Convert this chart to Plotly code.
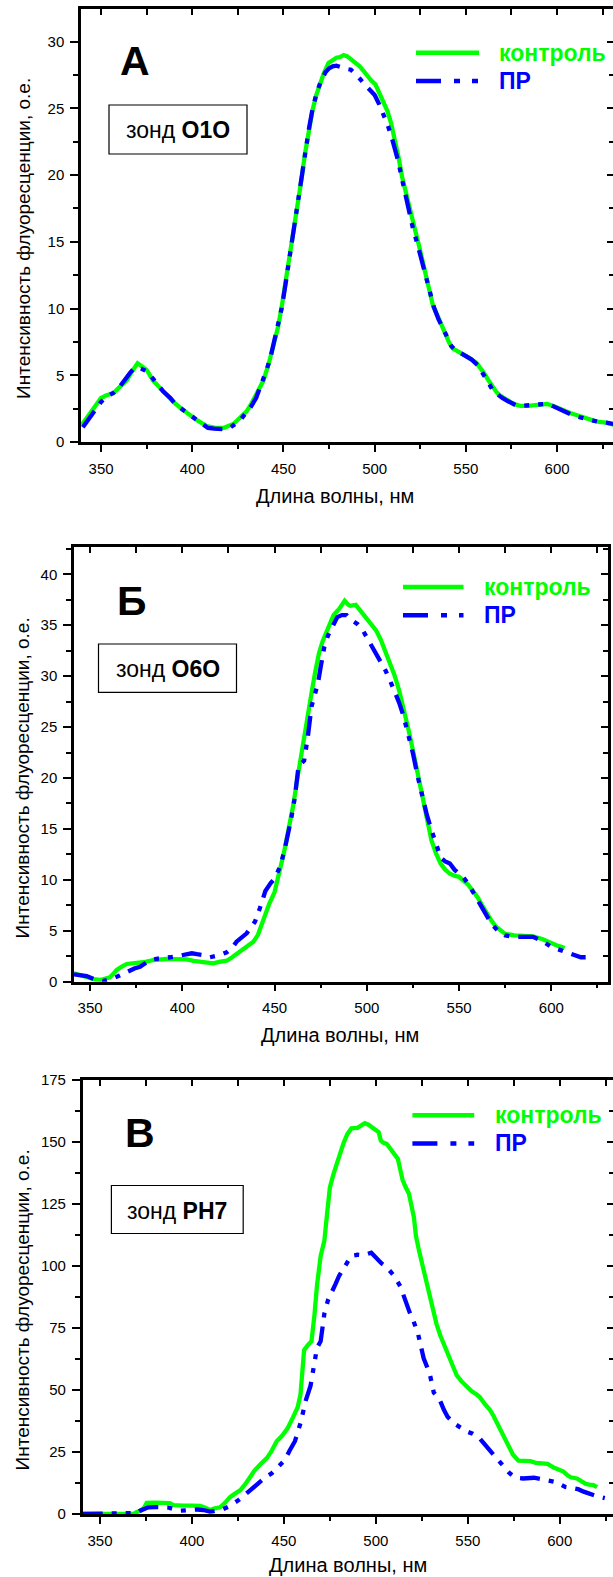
import plotly.graph_objects as go

# ---------------- data ----------------
# Panel А (зонд O1O)
a_ctrl_x = [339.4, 342, 345, 347.6, 350, 353, 356.7, 360, 364, 367, 370, 373, 375, 378.6, 382, 386, 389.6, 394, 398.8, 403,
            407.9, 413.4, 417, 422.5, 426, 429.8, 432.5, 435.3, 439, 442, 444.7, 447, 449, 451, 453, 455, 457.5, 460, 461.8,
            464, 466, 468, 470, 472, 474.7, 477, 479, 481, 483, 485, 487.5, 490, 491.8, 494, 496, 498, 500.4, 502.5, 504.7,
            507, 509, 511, 513, 515, 517.5, 519.5, 521.8, 524, 526, 528, 530, 532, 534.7, 537, 539, 541, 543, 545, 547.5,
            550, 552, 554, 556, 558, 560, 562.5, 564.6, 567, 569, 571, 573, 575, 577.5, 580, 584, 587, 590, 594.6, 598, 601,
            604, 607.5, 611, 614, 617, 620, 623, 626.8, 631]
a_ctrl_y = [1.27, 1.8, 2.4, 2.9, 3.3, 3.5, 3.65, 4.1, 4.6, 5.3, 5.9, 5.6, 5.4, 4.6, 4.1, 3.6, 3.0, 2.5, 2.0, 1.6,
            1.2, 1.05, 1.05, 1.35, 1.8, 2.3, 2.9, 3.6, 4.6, 5.9, 7.4, 8.6, 10.1, 11.8, 13.4, 15.3, 17.6, 19.8, 21.6,
            23.4, 24.9, 26.0, 26.9, 27.6, 28.4, 28.6, 28.8, 28.85, 29.0, 28.9, 28.6, 28.4, 28.15, 27.8, 27.4, 27.1, 26.8, 26.2, 25.6,
            24.8, 23.9, 22.8, 21.4, 19.9, 18.4, 17.2, 16.1, 14.9, 13.7, 12.4, 11.2, 10.2, 9.4, 8.6, 7.9, 7.4, 7.0, 6.8, 6.65,
            6.45, 6.3, 6.1, 5.9, 5.55, 5.15, 4.6, 4.15, 3.7, 3.45, 3.25, 3.15, 2.95, 2.8, 2.7, 2.7, 2.75, 2.85, 2.85, 2.7, 2.5,
            2.3, 2.15, 2.0, 1.85, 1.72, 1.6, 1.5, 1.45, 1.3]
a_pr_x = [340, 343, 346, 348, 350, 353, 357, 360, 363, 366, 368, 370, 372, 375, 377, 380, 384, 388, 391, 395, 398, 400, 403,
          405, 408.6, 412, 415, 418.7, 421, 424, 426, 429, 432, 435, 437, 439, 441, 443, 445, 447, 449, 451, 453, 455, 457,
          459.5, 462, 464, 466, 468.5, 471, 473, 475, 477, 479, 481, 483, 485, 487, 489.5, 492, 494.5, 497, 500, 502.5, 505,
          507, 509, 511, 513, 515, 517, 519, 521, 523.5, 526, 528, 530, 532.5, 535, 537.5, 540, 542, 544, 546, 548, 550.5,
          553, 555, 557, 559, 561, 563, 565, 567.5, 570, 572.5, 575, 577.5, 580, 585, 590, 593, 596, 599, 602, 605, 608,
          611, 614, 617, 620, 623, 627, 631]
a_pr_y = [1.1, 1.7, 2.3, 2.7, 3.0, 3.4, 3.7, 4.1, 4.7, 5.2, 5.5, 5.6, 5.5, 5.3, 5.0, 4.5, 3.8, 3.3, 2.8, 2.4, 2.1, 1.9, 1.6,
          1.4, 1.05, 1.0, 1.0, 0.95, 1.1, 1.35, 1.6, 2.1, 2.6, 3.3, 4.0, 4.8, 5.5, 6.4, 7.5, 8.7, 10.0, 11.7, 13.5, 15.5, 17.5,
          19.8, 21.8, 23.5, 25.0, 26.3, 27.2, 27.7, 28.0, 28.15, 28.2, 28.1, 28.0, 27.95, 27.9, 27.6, 27.2, 26.8, 26.4, 26.0, 25.3, 24.5,
          23.8, 23.0, 22.1, 21.0, 19.7, 18.4, 17.2, 16.0, 14.8, 13.5, 12.3, 11.2, 10.1, 9.2, 8.4, 7.8, 7.2, 6.9, 6.75, 6.6, 6.4,
          6.2, 5.95, 5.7, 5.2, 4.8, 4.3, 3.8, 3.5, 3.3, 3.1, 2.9, 2.75, 2.7, 2.75, 2.85, 2.85, 2.8, 2.6, 2.4, 2.2, 2.05,
          1.9, 1.8, 1.68, 1.55, 1.5, 1.45, 1.35]

# Panel Б (зонд O6O)
b_ctrl_x = [341.3, 345, 349, 352, 355.4, 358, 360.8, 362.5, 364.4, 367, 369.9, 373, 377.1, 380, 384.3, 388, 391.5, 396, 400,
            402.4, 406, 409.6, 413, 416.8, 420, 424.1, 427, 431.3, 435, 438.5, 441, 443.9, 447, 450, 452.5, 455, 457.5, 460,
            462.5, 465, 467.5, 470, 472, 474, 476, 478, 480, 482, 485, 488, 490, 491, 494, 497, 500, 502.5, 505, 507.5, 510,
            512.5, 515, 517.5, 520, 522.5, 525, 527.5, 530, 532.5, 535, 537.5, 540, 542.5, 545, 547.5, 550, 552.5, 555, 557.5,
            560, 562.5, 565, 567.5, 570, 572.5, 575, 580, 585, 590, 595, 600, 603, 605, 607.2]
b_ctrl_y = [0.82, 0.6, 0.43, 0.25, 0.17, 0.25, 0.43, 0.75, 1.15, 1.45, 1.74, 1.8, 1.87, 1.95, 2.13, 2.2, 2.23, 2.22, 2.2,
            2.2, 2.05, 1.96, 1.85, 1.8, 1.95, 2.06, 2.4, 2.95, 3.4, 3.93, 4.6, 6.06, 7.6, 8.8, 10.5, 12.6, 14.9, 17.2,
            20.1, 23.0, 25.8, 28.3, 30.4, 32.2, 33.4, 34.2, 35.0, 36.0, 36.6, 37.4, 37.0, 36.9, 37.0, 36.3, 35.6, 35.1, 34.5, 33.6, 32.4,
            31.3, 30.1, 28.6, 26.8, 24.8, 22.7, 20.4, 18.1, 15.9, 13.9, 12.6, 11.6, 11.0, 10.6, 10.4, 10.3, 9.9, 9.5, 8.9,
            8.3, 7.5, 6.7, 6.0, 5.4, 5.0, 4.7, 4.55, 4.55, 4.45, 4.2, 3.75, 3.55, 3.45, 3.3]
b_pr_x = [341.3, 345, 348.2, 351, 353.6, 357, 360, 362.6, 366, 369, 371.6, 374, 377.1, 380, 382.5, 386, 390, 393.3, 397, 400,
          402.4, 405.1, 408, 411.4, 415, 418, 420.4, 424.1, 427, 429.4, 432, 434.9, 437, 439.4, 442, 445, 448, 450, 452, 453.5,
          455.5, 457, 459, 461, 463, 466, 468, 470, 472, 473.5, 475, 477, 479, 481, 484, 486.5, 489, 491, 492, 495, 497.5,
          500, 503, 506, 508, 510, 512.5, 515, 517.5, 520, 522.5, 525, 527.5, 530, 532.5, 535, 537.5, 540, 542.5, 545, 547.5,
          550, 552.5, 555, 557.5, 560, 562.5, 565, 567.5, 570, 572.5, 575, 580, 585, 590, 595, 600, 605, 610, 613, 616, 618.6]
b_pr_y = [0.72, 0.65, 0.56, 0.35, 0.17, 0.05, 0.15, 0.33, 0.6, 0.9, 1.15, 1.3, 1.47, 1.8, 2.13, 2.25, 2.3, 2.4, 2.5, 2.6,
          2.69, 2.79, 2.7, 2.62, 2.4, 2.5, 2.62, 2.89, 3.3, 3.93, 4.3, 4.75, 5.3, 5.9, 7.2, 8.9, 9.7, 10.1, 10.9, 11.6,
          13.0, 14.2, 16.0, 18.1, 21.2, 21.7, 24.0, 27.0, 28.3, 29.3, 30.9, 32.9, 34.0, 34.8, 35.8, 36.0, 36.0, 35.6, 35.5, 35.1, 34.6,
          33.8, 33.0, 32.0, 31.3, 30.6, 29.6, 28.6, 27.4, 26.0, 24.3, 22.4, 20.2, 18.1, 16.4, 14.9, 13.4, 12.2, 11.8, 11.6, 11.0,
          10.6, 10.2, 9.6, 8.8, 8.0, 7.2, 6.4, 5.7, 5.2, 4.8, 4.55, 4.4, 4.4, 4.4, 4.0, 3.4, 3.1, 2.75, 2.6, 2.4, 2.4]

# Panel В (зонд PH7)
c_ctrl_x = [340.6, 350, 360, 368.1, 370, 372, 374, 375.4, 380, 385, 388, 390, 391.7, 395, 400, 404.4, 407, 409.8, 412, 415.3,
            418, 420.7, 423, 426.2, 429, 431.6, 434, 437, 440.7, 443, 446.1, 449, 452, 455, 457.5, 459, 460, 461, 463, 465,
            466.6, 468, 470, 472, 473.5, 475, 477, 478.6, 480.5, 482.5, 484.5, 486.7, 490, 492, 494, 496, 498, 500, 501.6,
            502.7, 504, 506, 509, 512, 513.5, 514.5, 516, 518, 520.7, 521.8, 523.5, 525, 527, 528.6, 531, 533, 535, 537, 540,
            542, 544, 546.5, 549, 552, 555, 556.6, 559, 562, 564, 566, 568, 570.5, 572.5, 574.5, 577.5, 581, 584, 587, 590,
            593.4, 596.7, 600, 602, 604.4, 606, 609.3, 612, 614, 616, 618.3, 620.3]
c_ctrl_y = [0, 0, 0, 0, 0.8, 1.3, 2.5, 4.5, 4.6, 4.5, 4.4, 3.6, 3.4, 3.4, 3.4, 3.3, 2.6, 1.6, 2.2, 2.7,
            4.5, 6.8, 8.0, 9.5, 12.0, 15.0, 17.5, 19.8, 22.5, 25.0, 29.3, 31.5, 34.5, 39.0, 43, 48, 55, 66, 68, 69.6,
            80, 92, 104, 110, 121, 131.5, 137, 141, 146, 149.5, 153, 155.3, 155.5, 156.5, 157.4, 156.8, 155.8, 155, 153.7,
            150.4, 149.6, 149, 146, 143, 138, 134.7, 132, 129, 119.5, 112, 106, 101.4, 94, 89, 82, 76.5, 72, 68.2, 62.7,
            58.5, 55.8, 53.5, 51.7, 49.5, 48, 47, 44.5, 42, 39.5, 36.5, 33, 29.6, 26.5, 24, 21.5, 21.3, 21.3, 20.6, 20.3,
            20.2, 18.7, 17.8, 17.1, 15.5, 14.8, 14.3, 13.0, 12.2, 11.8, 11.6, 10.8]
c_pr_x = [340.6, 350, 360, 368, 370, 371.8, 374, 376.3, 380, 384.4, 387, 390, 393.5, 397, 400.7, 403, 406.2, 409.8, 412,
          414.3, 417, 420, 422.5, 425, 428, 431.6, 434, 437, 440, 443.4, 446, 448, 450.6, 453, 456, 459, 462, 464.5, 466.6,
          468, 470, 472, 474, 476, 478, 480, 483.5, 486.7, 490, 493, 497.5, 500.5, 503, 506, 510, 513.3, 516.5, 518.5,
          520.4, 523, 526, 529.3, 531.5, 534.7, 537, 539, 542.5, 546.4, 549.5, 552.7, 556, 559, 562, 565.5, 568, 570,
          572.6, 576, 580, 586, 590, 594.4, 598, 603, 606, 610, 613, 616, 620, 624.5]
c_pr_y = [0, 0, 0, 0, 0.4, 1.35, 2.2, 2.7, 2.8, 2.7, 2.6, 2.0, 1.35, 1.5, 1.8, 1.8, 1.6, 0.95, 1.2,
          1.6, 2.0, 3.0, 4.1, 5.4, 7.2, 9.5, 11.2, 13.0, 14.8, 16.4, 18.2, 20.0, 21.8, 25.4, 29.3, 36.5, 46, 51.7, 60,
          66.9, 69.6, 80.7, 86.2, 89, 92.5, 95.9, 100, 104, 104.4, 104.2, 105.2, 102.8, 101, 99.3, 95.9, 91.7, 84.8, 81,
          77.9, 72.4, 62.7, 56.5, 48.9, 46, 42, 39.2, 36.5, 34.4, 33.2, 32.3, 30.9, 28.2, 25.5, 22.7, 20.5, 18.5,
          16.5, 14.6, 14.3, 14.6, 13.9, 13.5, 12.8, 10.9, 10.5, 10.0, 9.0, 8.1, 7.2, 6.4]

series_names = ["контроль", "ПР"]
panel_letters = ["А", "Б", "В"]
probe_names = ["O1O", "O6O", "PH7"]
x_title = "Длина волны, нм"
y_title = "Интенсивность флуоресценции, о.е."

# ---------------- layout geometry (pixels) ----------------
W, H = 620, 1577
GREEN = "#00ff00"
BLUE = "#0000ff"
FONT = "Liberation Sans, Arial, Helvetica, sans-serif"


def fx(px):
    return px / W


def fy(py):
    return 1 - py / H


panels = [
    dict(ctrl=(a_ctrl_x, a_ctrl_y), pr=(a_pr_x, a_pr_y), xr=[339, 631], yr=[0, 32.45], dy=5, mdy=2.5,
         box=(81, 613.6, 9, 442), letter=(135, 61), probe_box=(109, 247, 105, 154),
         leg=(416, 479, 52.7, 81, 497), xt=(335, 496), yt=(23, 239)),
    dict(ctrl=(b_ctrl_x, b_ctrl_y), pr=(b_pr_x, b_pr_y), xr=[341.3, 630.7], yr=[0, 42.65], dy=5, mdy=2.5,
         box=(74, 608, 547.3, 981.7), letter=(131.5, 601), probe_box=(98.5, 236.5, 644, 692.3),
         leg=(403, 463.5, 587, 615.3, 482), xt=(340, 1035), yt=(21.5, 778)),
    dict(ctrl=(c_ctrl_x, c_ctrl_y), pr=(c_pr_x, c_pr_y), xr=[340.6, 629.5], yr=[0, 175], dy=25, mdy=12.5,
         box=(82.7, 614, 1079.5, 1514), letter=(140, 1133), probe_box=(111.4, 243.2, 1185.5, 1233.5),
         leg=(412.4, 474.2, 1115.3, 1143.4, 492.6), xt=(348, 1565), yt=(21.5, 1310)),
]

fig = go.Figure()
layout = {}
shapes = []
annotations = []

for i, p in enumerate(panels):
    n_main = 2 * i + 1
    n_ov = 2 * i + 2
    xm = "x" if n_main == 1 else f"x{n_main}"
    ym = "y" if n_main == 1 else f"y{n_main}"
    xo = f"x{n_ov}"
    yo = f"y{n_ov}"
    l, r, t, b = p["box"]
    xdom = [fx(l), min(fx(r), 1.0)]
    ydom = [fy(b), fy(t)]

    # data traces
    fig.add_trace(go.Scatter(x=p["ctrl"][0], y=p["ctrl"][1], mode="lines", name=series_names[0],
                             line=dict(color=GREEN, width=4.3), xaxis=xm, yaxis=ym, showlegend=False))
    fig.add_trace(go.Scatter(x=p["pr"][0], y=p["pr"][1], mode="lines", name=series_names[1],
                             line=dict(color=BLUE, width=4.3, dash="20px,9px,5px,9px,5px,9px"),
                             xaxis=xm, yaxis=ym, showlegend=False))
    # empty trace to carry the mirrored (top/right) tick axes
    fig.add_trace(go.Scatter(x=[], y=[], xaxis=xo, yaxis=yo, showlegend=False, hoverinfo="skip"))

    common = dict(showgrid=False, zeroline=False, tickcolor="black", tickwidth=2,
                  tickfont=dict(family=FONT, size=15, color="black"))
    layout["xaxis" if n_main == 1 else f"xaxis{n_main}"] = dict(
        domain=xdom, range=p["xr"], anchor=ym, showline=True, mirror=True, linewidth=2.5, linecolor="black",
        ticks="outside", ticklen=7, tick0=350, dtick=50, ticklabelstandoff=4,
        minor=dict(dtick=25, tick0=350, ticks="outside", ticklen=4, tickwidth=2, tickcolor="black", showgrid=False),
        **common)
    layout["yaxis" if n_main == 1 else f"yaxis{n_main}"] = dict(
        domain=ydom, range=p["yr"], anchor=xm, showline=True, mirror=True, linewidth=2.5, linecolor="black",
        ticks="outside", ticklen=8, tick0=0, dtick=p["dy"], ticklabelstandoff=3,
        minor=dict(dtick=p["mdy"], tick0=0, ticks="outside", ticklen=5, tickwidth=2, tickcolor="black", showgrid=False),
        **common)
    layout[f"xaxis{n_ov}"] = dict(
        overlaying=xm, anchor=ym, side="top", range=p["xr"], showline=False, ticks="inside", ticklen=6,
        tick0=350, dtick=25, showticklabels=False, **common)
    layout[f"yaxis{n_ov}"] = dict(
        overlaying=ym, anchor=xm, side="right", range=p["yr"], showline=False, ticks="inside", ticklen=7,
        tick0=0, dtick=p["dy"], showticklabels=False,
        minor=dict(dtick=p["mdy"], tick0=0, ticks="inside", ticklen=5, tickwidth=2, tickcolor="black"),
        **common)

    # panel letter
    lx, ly = p["letter"]
    annotations.append(dict(x=fx(lx), y=fy(ly), xref="paper", yref="paper", text=f"<b>{panel_letters[i]}</b>",
                            showarrow=False, xanchor="center", yanchor="middle",
                            font=dict(family=FONT, size=41, color="black")))
    # probe box
    bx0, bx1, by0, by1 = p["probe_box"]
    shapes.append(dict(type="rect", xref="paper", yref="paper", x0=fx(bx0), x1=fx(bx1), y0=fy(by1), y1=fy(by0),
                       line=dict(color="black", width=1.2), fillcolor="white", layer="above"))
    annotations.append(dict(x=fx((bx0 + bx1) / 2), y=fy((by0 + by1) / 2 + 1), xref="paper", yref="paper",
                            text=f"зонд <b>{probe_names[i]}</b>", showarrow=False, xanchor="center",
                            yanchor="middle", font=dict(family=FONT, size=23, color="black")))
    # legend
    gx0, gx1, gy, by_, tx = p["leg"]
    shapes.append(dict(type="line", xref="paper", yref="paper", x0=fx(gx0), x1=fx(gx1), y0=fy(gy), y1=fy(gy),
                       line=dict(color=GREEN, width=4.5)))
    shapes.append(dict(type="line", xref="paper", yref="paper", x0=fx(gx0), x1=fx(gx1), y0=fy(by_), y1=fy(by_),
                       line=dict(color=BLUE, width=4.5, dash="25px,13px,6px,12px,6px,20px")))
    annotations.append(dict(x=fx(tx), y=fy(gy), xref="paper", yref="paper", text=f"<b>{series_names[0]}</b>",
                            showarrow=False, xanchor="left", yanchor="middle",
                            font=dict(family=FONT, size=23, color=GREEN)))
    annotations.append(dict(x=fx(tx), y=fy(by_), xref="paper", yref="paper", text=f"<b>{series_names[1]}</b>",
                            showarrow=False, xanchor="left", yanchor="middle",
                            font=dict(family=FONT, size=23, color=BLUE)))
    # axis titles
    xtx, xty = p["xt"]
    annotations.append(dict(x=fx(xtx), y=fy(xty), xref="paper", yref="paper", text=x_title, showarrow=False,
                            xanchor="center", yanchor="middle", font=dict(family=FONT, size=20, color="black")))
    ytx, yty = p["yt"]
    annotations.append(dict(x=fx(ytx), y=fy(yty), xref="paper", yref="paper", text=y_title, showarrow=False,
                            textangle=-90, xanchor="center", yanchor="middle",
                            font=dict(family=FONT, size=19, color="black")))

fig.update_layout(
    width=W, height=H, margin=dict(l=0, r=0, t=0, b=0, autoexpand=False),
    paper_bgcolor="white", plot_bgcolor="white", showlegend=False,
    shapes=shapes, annotations=annotations, font=dict(family=FONT, color="black"),
    **layout,
)

fig.write_html("out.html", config={"displayModeBar": False},
               post_script="document.body.style.margin='0';document.body.style.overflow='hidden';")
